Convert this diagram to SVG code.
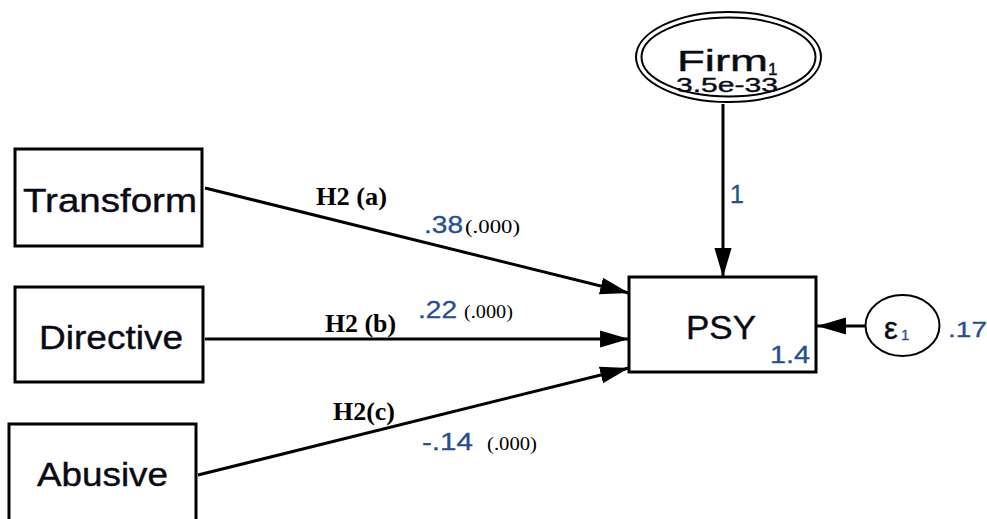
<svg xmlns="http://www.w3.org/2000/svg" width="987" height="519" viewBox="0 0 987 519">
  <style>
    .box { fill: #ffffff; stroke: #000000; stroke-width: 3; }
    .oval { fill: none; stroke: #000000; stroke-width: 2; }
    .path { fill: none; stroke: #000000; stroke-width: 3; }
    .name { font-family: "Liberation Sans", Arial, sans-serif; fill: #0a0a14; stroke: #0a0a14; stroke-width: 0.4; }
    .est { font-family: "Liberation Sans", Arial, sans-serif; fill: #24508f; stroke: #24508f; stroke-width: 0.3; }
    .hyp { font-family: "Liberation Serif", "Times New Roman", serif; font-weight: bold; fill: #000000; }
    .pval { font-family: "Liberation Serif", "Times New Roman", serif; fill: #000000; }
  </style>
  <defs>
    <marker id="arrow" markerUnits="userSpaceOnUse" markerWidth="30" markerHeight="20" viewBox="0 -9 28 18" refX="27" refY="0" orient="auto">
      <path d="M0,-8 L27,0 L0,8 z" fill="#000000"/>
    </marker>
  </defs>

  <rect width="987" height="519" fill="#ffffff"/>

  <!-- paths -->
  <g id="connectors">
    <line class="path" x1="205" y1="188" x2="629" y2="293" marker-end="url(#arrow)"/>
    <line class="path" x1="205" y1="339" x2="629" y2="339" marker-end="url(#arrow)"/>
    <line class="path" x1="198" y1="475" x2="629" y2="368" marker-end="url(#arrow)"/>
    <line class="path" x1="723" y1="104" x2="723" y2="277" marker-end="url(#arrow)"/>
    <line class="path" x1="865" y1="326" x2="817" y2="326" marker-end="url(#arrow)"/>
  </g>

  <!-- path labels -->
  <g id="labels">
    <text class="hyp" x="316" y="205" font-size="25" textLength="71" lengthAdjust="spacingAndGlyphs">H2 (a)</text>
    <text class="est" x="424" y="233" font-size="23" textLength="39" lengthAdjust="spacingAndGlyphs">.38</text>
    <text class="pval" x="465" y="233" font-size="18" textLength="55" lengthAdjust="spacingAndGlyphs">(.000)</text>

    <text class="hyp" x="325" y="332" font-size="25" textLength="71" lengthAdjust="spacingAndGlyphs">H2 (b)</text>
    <text class="est" x="418" y="318" font-size="23" textLength="39" lengthAdjust="spacingAndGlyphs">.22</text>
    <text class="pval" x="464" y="318" font-size="18" textLength="49" lengthAdjust="spacingAndGlyphs">(.000)</text>

    <text class="hyp" x="333" y="420" font-size="25" textLength="62" lengthAdjust="spacingAndGlyphs">H2(c)</text>
    <text class="est" x="422" y="450" font-size="24" textLength="51" lengthAdjust="spacingAndGlyphs">-.14</text>
    <text class="pval" x="487" y="450" font-size="18" textLength="50" lengthAdjust="spacingAndGlyphs">(.000)</text>

    <text class="est" x="730" y="203" font-size="25">1</text>
  </g>

  <g id="transform">
    <rect class="box" x="15" y="149" width="187" height="97"/>
    <text class="name" x="23" y="212" font-size="34" textLength="174" lengthAdjust="spacingAndGlyphs">Transform</text>
  </g>

  <g id="directive">
    <rect class="box" x="15" y="287" width="188" height="95"/>
    <text class="name" x="39" y="349" font-size="33" textLength="144" lengthAdjust="spacingAndGlyphs">Directive</text>
  </g>

  <g id="abusive">
    <rect class="box" x="9" y="424" width="187" height="110"/>
    <text class="name" x="37" y="486" font-size="33" textLength="131" lengthAdjust="spacingAndGlyphs">Abusive</text>
  </g>

  <g id="psy">
    <rect class="box" x="629" y="277" width="187" height="95"/>
    <text class="name" x="686" y="339" font-size="34" textLength="70" lengthAdjust="spacingAndGlyphs">PSY</text>
    <text class="est" x="770" y="363" font-size="23" textLength="40" lengthAdjust="spacingAndGlyphs">1.4</text>
  </g>

  <g id="firm">
    <ellipse class="oval" cx="728.5" cy="57" rx="92.5" ry="45"/>
    <ellipse class="oval" cx="728.5" cy="57" rx="87" ry="39.5"/>
    <text class="name" x="677" y="71" font-size="29" textLength="91" lengthAdjust="spacingAndGlyphs">Firm</text>
    <text class="name" x="768" y="75" font-size="17">1</text>
    <text class="name" x="676" y="92" font-size="21" textLength="102" lengthAdjust="spacingAndGlyphs">3.5e-33</text>
  </g>

  <g id="e1">
    <ellipse class="oval" cx="902.5" cy="325.5" rx="37" ry="30.5"/>
    <text class="name" x="884" y="339" font-size="31">ε</text>
    <text class="est" x="901" y="340" font-size="15">1</text>
    <text class="est" x="948" y="337" font-size="22" textLength="39" lengthAdjust="spacingAndGlyphs">.17</text>
  </g>
</svg>
